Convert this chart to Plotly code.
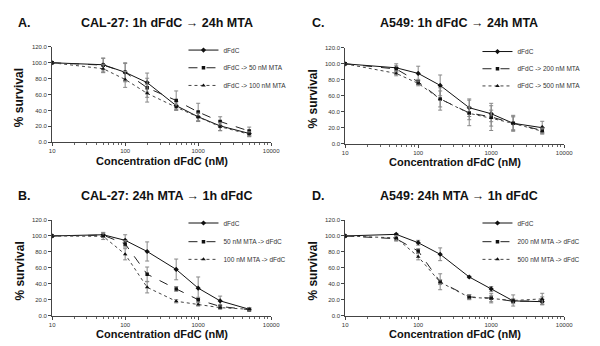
import plotly.graph_objects as go

W, H = 600, 346

conc = [10, 50, 100, 200, 500, 1000, 2000, 5000]

# Panel A: CAL-27, 1h dFdC -> 24h MTA
a_names = ["dFdC", "dFdC -> 50 nM MTA", "dFdC -> 100 nM MTA"]
a_dfdc = [100, 97.5, 88, 75, 46, 32, 20.5, 11]
a_mta1 = [100, 97, 88, 68.5, 52.5, 38, 26, 14]
a_mta2 = [100, 92.5, 79, 61.5, 44, 31.5, 19.5, 10]
a_dfdc_err = [0, 8, 11, 12, 5, 6, 6, 4]
a_mta1_err = [0, 9, 12, 12, 12, 11, 6, 5]
a_mta2_err = [0, 5, 10, 11, 4, 5, 5, 3]

# Panel B: CAL-27, 24h MTA -> 1h dFdC
b_names = ["dFdC", "50 nM MTA -> dFdC", "100 nM MTA -> dFdC"]
b_dfdc = [100, 101.5, 94.5, 80.5, 58, 34.5, 18.5, 8]
b_mta1 = [100, 101, 90, 52, 33.5, 20, 11.5, 7.5]
b_mta2 = [100, 99.5, 77, 35.5, 18, 14, 10, 8]
b_dfdc_err = [0, 3, 7, 12, 13, 14, 6, 2]
b_mta1_err = [0, 3, 4, 9, 3, 3, 2, 2]
b_mta2_err = [0, 4, 7, 7, 2, 2, 2, 2]

# Panel C: A549, 1h dFdC -> 24h MTA
c_names = ["dFdC", "dFdC -> 200 nM MTA", "dFdC -> 500 nM MTA"]
c_dfdc = [100, 95, 88, 73, 45, 37.5, 25.5, 20]
c_mta1 = [100, 93.5, 77.5, 56, 38.5, 33.5, 25.5, 16.5]
c_mta2 = [100, 88, 75.5, 56, 38, 32, 25.5, 15.5]
c_dfdc_err = [0, 5, 9, 13, 11, 10, 10, 8]
c_mta1_err = [0, 4, 3, 14, 16, 17, 9, 3]
c_mta2_err = [0, 3, 3, 10, 8, 10, 8, 3]

# Panel D: A549, 24h MTA -> 1h dFdC
d_names = ["dFdC", "200 nM MTA -> dFdC", "500 nM MTA -> dFdC"]
d_dfdc = [100, 102, 91.5, 77, 48.5, 33.5, 18.5, 17.5]
d_mta1 = [100, 96.5, 81, 42.5, 23.5, 22, 18, 18.5]
d_mta2 = [100, 97.5, 74, 42, 23, 21.5, 19, 21]
d_dfdc_err = [0, 1, 3, 8, 1, 3, 2, 3]
d_mta1_err = [0, 3, 3, 10, 3, 6, 3, 5]
d_mta2_err = [0, 3, 4, 3, 3, 4, 7, 7]

letters = ["A.", "B.", "C.", "D."]
titles = ["CAL-27: 1h dFdC \u2192 24h MTA", "CAL-27: 24h MTA \u2192 1h dFdC",
          "A549: 1h dFdC \u2192 24h MTA", "A549: 24h MTA \u2192 1h dFdC"]
x_title = "Concentration dFdC (nM)"
y_title = "% survival"
x_ticks = [10, 100, 1000, 10000]
x_minor = [20, 30, 40, 50, 60, 70, 80, 90, 200, 300, 400, 500, 600, 700, 800, 900,
           2000, 3000, 4000, 5000, 6000, 7000, 8000, 9000]
y_ticks = [0, 20, 40, 60, 80, 100, 120]

FONT = "Liberation Sans, Arial, sans-serif"

def px(x):
    return x / W

def py(y):
    return 1 - y / H

# panel geometry in pixels: (x_left, x_right, y_top, y_bottom)
geo = [
    (42, 265.5, 36.5, 133.5),   # A
    (42, 265.5, 212.7, 310),    # B
    (341, 564.5, 37.5, 135),    # C
    (341, 564.5, 212.7, 310),   # D
]

panels = [
    (a_names, [a_dfdc, a_mta1, a_mta2], [a_dfdc_err, a_mta1_err, a_mta2_err]),
    (b_names, [b_dfdc, b_mta1, b_mta2], [b_dfdc_err, b_mta1_err, b_mta2_err]),
    (c_names, [c_dfdc, c_mta1, c_mta2], [c_dfdc_err, c_mta1_err, c_mta2_err]),
    (d_names, [d_dfdc, d_mta1, d_mta2], [d_dfdc_err, d_mta1_err, d_mta2_err]),
]

styles = [
    dict(dash="solid", symbol="diamond", size=4, color="#111"),
    dict(dash="dash", symbol="square", size=3.5, color="#222"),
    dict(dash="dot", symbol="triangle-up", size=4, color="#444"),
]

fig = go.Figure()
layout = dict(width=W, height=H, margin=dict(l=0, r=0, t=0, b=0),
              paper_bgcolor="white", plot_bgcolor="white",
              font=dict(family=FONT, color="#222"), showlegend=True)
annotations = []

title_pos = [(159, 12.7, 14, 12.7), (159, 188, 14, 188), (457.5, 12.7, 314, 12.7), (457.5, 188, 314, 188)]
# legend text left x, and item centre y for each series
legend_text_x = [223, 223, 523, 523]
legend_item_y = [(40, 58, 76), (216, 235, 253), (41.5, 59, 76.5), (216, 235, 253)]

leg_n = 0
for i, (names, ys, errs) in enumerate(panels):
    k = "" if i == 0 else str(i + 1)
    xl, xr, yt, yb = geo[i]
    for j in range(3):
        st = styles[j]
        leg_n += 1
        leg = "legend" if leg_n == 1 else "legend" + str(leg_n)
        fig.add_trace(go.Scatter(
            x=conc, y=ys[j], name=names[j], mode="lines+markers",
            xaxis="x" + k, yaxis="y" + k, legend=leg,
            line=dict(color=st["color"], width=1, dash=st["dash"]),
            marker=dict(symbol=st["symbol"], size=st["size"], color="#111"),
            error_y=dict(type="data", array=errs[j], visible=True,
                         color="#888", thickness=1, width=2),
        ))
        layout[leg] = dict(x=px(legend_text_x[i] - 47), y=py(legend_item_y[i][j] - 15),
                           xanchor="left", yanchor="top",
                           font=dict(size=6.5, color="#333"), bgcolor="rgba(0,0,0,0)",
                           itemwidth=30, borderwidth=0)
    layout["xaxis" + k] = dict(
        type="log", range=[1, 4], domain=[px(xl), px(xr)], anchor="y" + k,
        showline=True, linecolor="#444", linewidth=1, showgrid=False, zeroline=False,
        tickvals=x_ticks, ticktext=[str(v) for v in x_ticks],
        ticks="outside", ticklen=3, tickcolor="#444",
        tickfont=dict(size=6, color="#333"),
        minor=dict(tickvals=x_minor, ticks="outside", ticklen=2, tickcolor="#666", showgrid=False),
    )
    layout["yaxis" + k] = dict(
        range=[0, 120], domain=[py(yb), py(yt)], anchor="x" + k,
        showline=True, linecolor="#444", linewidth=1, showgrid=False, zeroline=False,
        tickvals=y_ticks, tickformat=".1f",
        ticks="outside", ticklen=3, tickcolor="#444",
        tickfont=dict(size=6, color="#333"),
    )
    tx, ty, lxx, lyy = title_pos[i]
    annotations.append(dict(text=titles[i], x=px(tx), y=py(ty), xref="paper", yref="paper",
                            xanchor="center", yanchor="middle", showarrow=False,
                            font=dict(size=12.5, color="#111", family=FONT, weight="bold")))
    annotations.append(dict(text=letters[i], x=px(lxx), y=py(lyy), xref="paper", yref="paper",
                            xanchor="center", yanchor="middle", showarrow=False,
                            font=dict(size=12.5, color="#111", family=FONT, weight="bold")))
    annotations.append(dict(text=x_title, x=px((xl + xr) / 2 + 0.5), y=py(yb + 19), xref="paper", yref="paper",
                            xanchor="center", yanchor="middle", showarrow=False,
                            font=dict(size=11, color="#111", family=FONT, weight="bold")))
    annotations.append(dict(text=y_title, x=px(xl - 33), y=py((yt + yb) / 2 + 3), xref="paper", yref="paper",
                            xanchor="center", yanchor="middle", showarrow=False, textangle=-90,
                            font=dict(size=12, color="#111", family=FONT, weight="bold")))

layout["annotations"] = annotations
fig.update_layout(**layout)
fig.write_html("out.html")
